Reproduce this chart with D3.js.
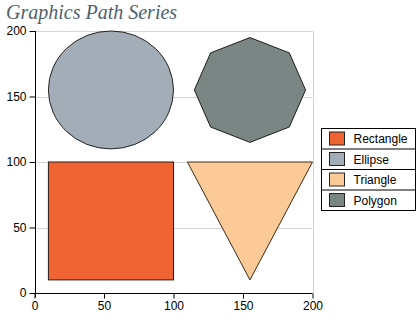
<!DOCTYPE html>
<html lang="en">
<head>
    <meta charset="UTF-8">
    <title>Graphics Path Series</title>
    <script src="https://d3js.org/d3.v7.min.js"></script>
    <style>
        body { margin: 0; background: white; }
        text { font-family: "Liberation Sans", Arial, sans-serif; font-size: 12px; }
    </style>
</head>
<body>
<svg id="chart" width="420" height="320"></svg>
<script>

    // Series names and colours
    const names = ["Rectangle", "Ellipse", "Triangle", "Polygon"];
    const colors = ["#F06434", "#A3ADB7", "#FCCA96", "#7A8683"];

    // Shape geometry in data units
    const rectangle = [10, 10, 100, 100];          // x0, y0, x1, y1
    const ellipse = [55, 155, 45, 45];              // cx, cy, rx, ry
    const triangle = [[110, 100], [200, 100], [155, 10]];
    const polygon = [
        [195, 155], [183.3, 183.3], [155, 195], [126.7, 183.3],
        [115, 155], [126.7, 126.7], [155, 115], [183.3, 126.7]
    ];

    const xTicks = [0, 50, 100, 150, 200];
    const yTicks = [0, 50, 100, 150, 200];

    const svg = d3.select("#chart");

    const x = d3.scaleLinear().domain([0, 200]).range([34.5, 312.5]);
    const y = d3.scaleLinear().domain([0, 200]).range([293, 31]);

    // Title
    svg.append("text")
        .attr("x", 6)
        .attr("y", 19)
        .style("font-family", "'Liberation Serif', 'DejaVu Serif', serif")
        .style("font-style", "italic")
        .style("font-size", "20px")
        .attr("fill", "#4E5F6E")
        .text("Graphics Path Series");

    // Grid lines
    svg.append("g")
        .selectAll("line")
        .data(yTicks.filter(d => d > 0))
        .join("line")
        .attr("x1", x(0)).attr("x2", x(200))
        .attr("y1", d => Math.round(y(d)) + 0.5).attr("y2", d => Math.round(y(d)) + 0.5)
        .attr("stroke", "#d4d4d4");

    svg.append("line")
        .attr("x1", Math.round(x(200)) + 0.5).attr("x2", Math.round(x(200)) + 0.5)
        .attr("y1", y(200)).attr("y2", y(0))
        .attr("stroke", "#d4d4d4");

    const plot = svg.append("g");

    const shapeLine = d3.line().x(d => x(d[0])).y(d => y(d[1]));

    // Rectangle
    plot.append("rect")
        .attr("x", x(rectangle[0]))
        .attr("y", y(rectangle[3]))
        .attr("width", x(rectangle[2]) - x(rectangle[0]))
        .attr("height", y(rectangle[1]) - y(rectangle[3]))
        .attr("fill", colors[0])
        .attr("stroke", "#2a1a10");

    // Ellipse
    plot.append("ellipse")
        .attr("cx", x(ellipse[0]))
        .attr("cy", y(ellipse[1]))
        .attr("rx", x(ellipse[2]) - x(0))
        .attr("ry", y(0) - y(ellipse[3]))
        .attr("fill", colors[1])
        .attr("stroke", "#222");

    // Triangle
    plot.append("path")
        .attr("d", shapeLine(triangle) + "Z")
        .attr("fill", colors[2])
        .attr("stroke", "#3a2a1a");

    // Polygon
    plot.append("path")
        .attr("d", shapeLine(polygon) + "Z")
        .attr("fill", colors[3])
        .attr("stroke", "#1a1a1a");

    // Axes
    svg.append("g")
        .attr("transform", `translate(0,${Math.round(y(0)) + 0.5})`)
        .call(d3.axisBottom(x).tickValues(xTicks).tickSize(5).tickPadding(3))
        .call(g => g.select(".domain").attr("d", `M${x(0) - 3},0H${x(200)}`))
        .call(g => g.selectAll("text").style("font-size", "12px").attr("fill", "#000"));

    svg.append("g")
        .attr("transform", `translate(${Math.round(x(0)) + 0.5},0)`)
        .call(d3.axisLeft(y).tickValues(yTicks).tickSize(6).tickPadding(3))
        .call(g => g.select(".domain").attr("d", `M0,${y(200)}V${y(0) + 4}`))
        .call(g => g.selectAll("text").style("font-size", "12px").attr("fill", "#000"));

    // Legend
    const legend = svg.append("g").attr("transform", "translate(321.5,128.5)");
    const rowH = 20.5;
    legend.append("rect")
        .attr("width", 94).attr("height", rowH * names.length)
        .attr("fill", "white").attr("stroke", "#000");

    const rows = legend.selectAll("g.row")
        .data(names)
        .join("g")
        .attr("class", "row")
        .attr("transform", (d, i) => `translate(0,${i * rowH})`);

    rows.filter((d, i) => i > 0).append("line")
        .attr("x1", 0).attr("x2", 94)
        .attr("stroke", "#000");

    rows.append("rect")
        .attr("x", 8).attr("y", 3.5)
        .attr("width", 15).attr("height", 13)
        .attr("fill", (d, i) => colors[i])
        .attr("stroke", "#222");

    rows.append("text")
        .attr("x", 32).attr("y", 14.5)
        .attr("fill", "#000")
        .text(d => d);

</script>
</body>
</html>
